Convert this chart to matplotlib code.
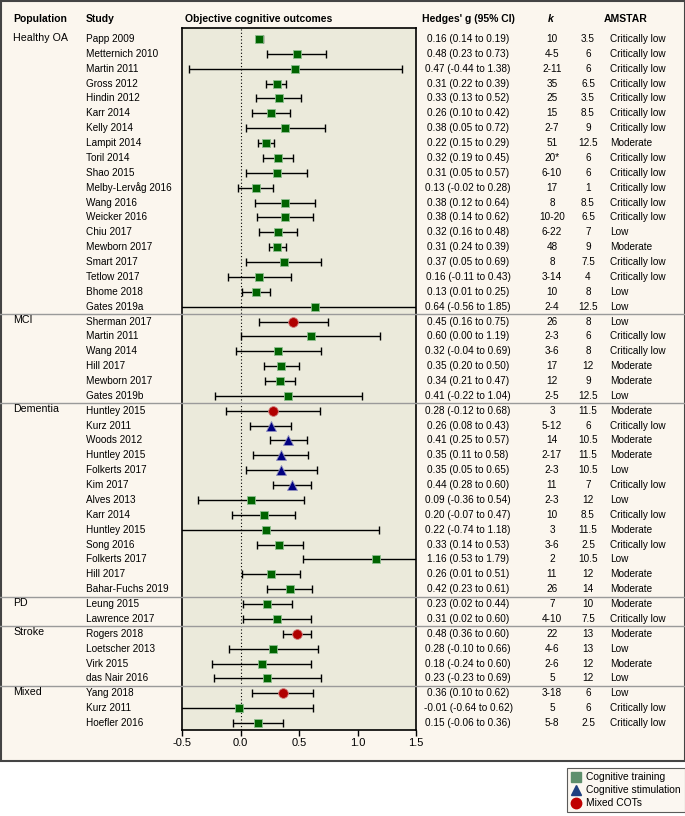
import matplotlib.pyplot as plt
import matplotlib.transforms as mtransforms
from matplotlib.lines import Line2D
from matplotlib.patches import Rectangle

plt.rcParams['font.family'] = ['Liberation Sans', 'DejaVu Sans']

# Data
groups = ['Healthy OA', 'MCI', 'Dementia', 'PD', 'Stroke', 'Mixed']
group_sizes = [19, 6, 13, 2, 4, 3]

studies = ['Papp 2009', 'Metternich 2010', 'Martin 2011', 'Gross 2012', 'Hindin 2012',
           'Karr 2014', 'Kelly 2014', 'Lampit 2014', 'Toril 2014', 'Shao 2015',
           'Melby-Lervåg 2016', 'Wang 2016', 'Weicker 2016', 'Chiu 2017', 'Mewborn 2017',
           'Smart 2017', 'Tetlow 2017', 'Bhome 2018', 'Gates 2019a',
           'Sherman 2017', 'Martin 2011', 'Wang 2014', 'Hill 2017', 'Mewborn 2017', 'Gates 2019b',
           'Huntley 2015', 'Kurz 2011', 'Woods 2012', 'Huntley 2015', 'Folkerts 2017',
           'Kim 2017', 'Alves 2013', 'Karr 2014', 'Huntley 2015', 'Song 2016',
           'Folkerts 2017', 'Hill 2017', 'Bahar-Fuchs 2019',
           'Leung 2015', 'Lawrence 2017',
           'Rogers 2018', 'Loetscher 2013', 'Virk 2015', 'das Nair 2016',
           'Yang 2018', 'Kurz 2011', 'Hoefler 2016']

g = [0.16, 0.48, 0.47, 0.31, 0.33, 0.26, 0.38, 0.22, 0.32, 0.31,
     0.13, 0.38, 0.38, 0.32, 0.31, 0.37, 0.16, 0.13, 0.64,
     0.45, 0.60, 0.32, 0.35, 0.34, 0.41,
     0.28, 0.26, 0.41, 0.35, 0.35, 0.44, 0.09, 0.20, 0.22, 0.33, 1.16, 0.26, 0.42,
     0.23, 0.31,
     0.48, 0.28, 0.18, 0.23,
     0.36, -0.01, 0.15]
ci_lo = [0.14, 0.23, -0.44, 0.22, 0.13, 0.10, 0.05, 0.15, 0.19, 0.05,
         -0.02, 0.12, 0.14, 0.16, 0.24, 0.05, -0.11, 0.01, -0.56,
         0.16, 0.00, -0.04, 0.20, 0.21, -0.22,
         -0.12, 0.08, 0.25, 0.11, 0.05, 0.28, -0.36, -0.07, -0.74, 0.14, 0.53, 0.01, 0.23,
         0.02, 0.02,
         0.36, -0.10, -0.24, -0.23,
         0.10, -0.64, -0.06]
ci_hi = [0.19, 0.73, 1.38, 0.39, 0.52, 0.42, 0.72, 0.29, 0.45, 0.57,
         0.28, 0.64, 0.62, 0.48, 0.39, 0.69, 0.43, 0.25, 1.85,
         0.75, 1.19, 0.69, 0.50, 0.47, 1.04,
         0.68, 0.43, 0.57, 0.58, 0.65, 0.60, 0.54, 0.47, 1.18, 0.53, 1.79, 0.51, 0.61,
         0.44, 0.60,
         0.60, 0.66, 0.60, 0.69,
         0.62, 0.62, 0.36]
k_vals = ['10', '4-5', '2-11', '35', '25', '15', '2-7', '51', '20*', '6-10',
          '17', '8', '10-20', '6-22', '48', '8', '3-14', '10', '2-4',
          '26', '2-3', '3-6', '17', '12', '2-5',
          '3', '5-12', '14', '2-17', '2-3', '11', '2-3', '10', '3', '3-6', '2', '11', '26',
          '7', '4-10',
          '22', '4-6', '2-6', '5',
          '3-18', '5', '5-8']
amstar_score = ['3.5', '6', '6', '6.5', '3.5', '8.5', '9', '12.5', '6', '6',
                '1', '8.5', '6.5', '7', '9', '7.5', '4', '8', '12.5',
                '8', '6', '8', '12', '9', '12.5',
                '11.5', '6', '10.5', '11.5', '10.5', '7', '12', '8.5', '11.5', '2.5', '10.5', '12', '14',
                '10', '7.5',
                '13', '13', '12', '12',
                '6', '6', '2.5']
amstar_rating = ['Critically low'] * 7 + ['Moderate'] + ['Critically low'] * 5 + ['Low', 'Moderate',
                 'Critically low', 'Critically low', 'Low', 'Low',
                 'Low', 'Critically low', 'Critically low', 'Moderate', 'Moderate', 'Low',
                 'Moderate', 'Critically low', 'Moderate', 'Moderate', 'Low', 'Critically low', 'Low',
                 'Critically low', 'Moderate', 'Critically low', 'Low', 'Moderate', 'Moderate',
                 'Moderate', 'Critically low',
                 'Moderate', 'Low', 'Moderate', 'Low',
                 'Low', 'Critically low', 'Critically low']
# T = cognitive training, S = cognitive stimulation, M = mixed COTs
cot_type = ['T'] * 19 + ['M'] + ['T'] * 5 + ['M', 'S', 'S', 'S', 'S', 'S'] + ['T'] * 7 + \
           ['T', 'T'] + ['M', 'T', 'T', 'T'] + ['M', 'T', 'T']

W, H = 685, 816
BG = '#fbf6ee'
PLOT_BG = '#ebeadb'

fig = plt.figure(figsize=(W / 100, H / 100), dpi=100)
fig.patch.set_facecolor('white')
fig.patches.append(Rectangle((0.5 / W, 1 - 761 / H), (W - 1) / W, 760 / H, transform=fig.transFigure,
                             facecolor=BG, edgecolor='#444444', linewidth=1.5, zorder=-10))

row0, step = 39, 14.87
n = len(studies)
ax_top, ax_bot = 28, 730
ax = fig.add_axes([182 / W, 1 - ax_bot / H, (416 - 182) / W, (ax_bot - ax_top) / H])
ax.set_facecolor(PLOT_BG)
ax.set_xlim(-0.5, 1.5)
ax.set_ylim((ax_bot - row0) / step, (ax_top - row0) / step)
ax.set_yticks([])
ax.set_xticks([-0.5, 0, 0.5, 1.0, 1.5])
ax.set_xticklabels(['-0.5', '0.0', '0.5', '1.0', '1.5'], fontsize=8)
ax.tick_params(axis='x', length=4, width=1, pad=2)
for s in ax.spines.values():
    s.set_linewidth(1.2)
ax.axvline(0, color='black', linestyle=(0, (1, 2)), linewidth=0.8, zorder=1)

styles = {'T': dict(marker='s', color='#006400', ms=5.5, mec='#8fc08f'),
          'S': dict(marker='^', color='#000080', ms=6.5, mec='#9090c0'),
          'M': dict(marker='o', color='#b00000', ms=7, mec='#d08080')}
for i in range(n):
    st = styles[cot_type[i]]
    ax.errorbar(g[i], i, xerr=[[g[i] - ci_lo[i]], [ci_hi[i] - g[i]]], fmt='none',
                ecolor='black', elinewidth=1, capsize=3, capthick=1, zorder=2)
    ax.plot(g[i], i, linestyle='none', marker=st['marker'], color=st['color'],
            markersize=st['ms'], markeredgecolor=st['mec'], markeredgewidth=0.6, zorder=3)

# text columns
tr = mtransforms.blended_transform_factory(fig.transFigure, ax.transData)
fs = 7.2
hy = (19 - row0) / step
for x, label, ha, style in [(13, 'Population', 'left', 'normal'), (86, 'Study', 'left', 'normal'),
                            (185, 'Objective cognitive outcomes', 'left', 'normal'),
                            (468, "Hedges' g (95% CI)", 'center', 'normal'),
                            (551, 'k', 'center', 'italic'), (626, 'AMSTAR', 'center', 'normal')]:
    fig.text(x / W, hy, label, transform=tr, ha=ha, va='center', fontsize=fs + 0.3,
             fontweight='bold', style=style)

start = 0
for grp, size in zip(groups, group_sizes):
    fig.text(13 / W, start - 0.1, grp, transform=tr, ha='left', va='center', fontsize=fs + 0.5)
    start += size
    if start < n:
        fig.add_artist(Line2D([0, 1], [start - 0.5, start - 0.5], transform=tr,
                              color='#9a9a9a', linewidth=1, zorder=1))

for i in range(n):
    fig.text(86 / W, i, studies[i], transform=tr, ha='left', va='center', fontsize=fs)
    fig.text(468 / W, i, f'{g[i]:.2f} ({ci_lo[i]:.2f} to {ci_hi[i]:.2f})', transform=tr,
             ha='center', va='center', fontsize=fs)
    fig.text(552 / W, i, k_vals[i], transform=tr, ha='center', va='center', fontsize=fs)
    fig.text(588 / W, i, amstar_score[i], transform=tr, ha='center', va='center', fontsize=fs)
    fig.text(610 / W, i, amstar_rating[i], transform=tr, ha='left', va='center', fontsize=fs)

handles = [Line2D([], [], linestyle='none', marker='s', color='#5e8f6c', markersize=6.5),
           Line2D([], [], linestyle='none', marker='^', color='#1f3f7f', markersize=7),
           Line2D([], [], linestyle='none', marker='o', color='#c00000', markersize=7.5)]
leg = fig.legend(handles, ['Cognitive training', 'Cognitive stimulation', 'Mixed COTs'],
                 loc='upper right', bbox_to_anchor=(1.0, 1 - 768 / H), fontsize=7.4,
                 frameon=True, fancybox=False, handlelength=1, handletextpad=0.5,
                 labelspacing=0.3, borderpad=0.4, borderaxespad=0)
leg.get_frame().set_facecolor(BG)
leg.get_frame().set_edgecolor('#333333')
leg.get_frame().set_linewidth(0.8)

fig.savefig('out.png', dpi=100, facecolor=fig.get_facecolor())
